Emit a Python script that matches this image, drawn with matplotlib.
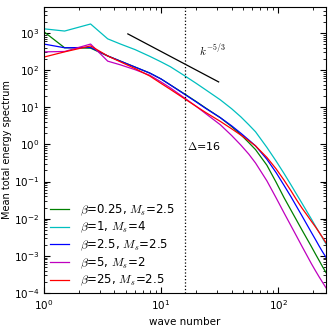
import matplotlib
matplotlib.use("Agg")
import matplotlib.pyplot as plt
import numpy as np

plt.rcParams['mathtext.fontset'] = 'cm'
plt.rcParams['font.family'] = ['DejaVu Sans']

k = [1, 1.5, 2.5, 3.5, 4.5, 6, 8, 10, 12, 16, 20, 24, 32, 40, 48, 56, 64, 80,
     96, 112, 128, 144, 160, 176, 192, 208, 224, 240, 256]

# log10 of mean total energy spectrum, one list per run
logE_b025 = [3.03, 2.60, 2.59, 2.38, 2.24, 2.08, 1.92, 1.76, 1.60, 1.35, 1.15, 0.98,
             0.72, 0.48, 0.26, 0.05, -0.14, -0.56, -1.02, -1.43, -1.76, -2.05, -2.31,
             -2.54, -2.75, -2.95, -3.13, -3.30, -3.45]
logE_b1 = [3.11, 3.05, 3.24, 2.84, 2.70, 2.55, 2.37, 2.22, 2.09, 1.84, 1.64, 1.47,
           1.20, 0.96, 0.74, 0.53, 0.34, -0.08, -0.45, -0.78, -1.08, -1.35, -1.59,
           -1.81, -2.01, -2.20, -2.37, -2.53, -2.68]
logE_b25 = [2.70, 2.60, 2.61, 2.38, 2.24, 2.08, 1.92, 1.76, 1.60, 1.34, 1.14, 0.97,
            0.72, 0.50, 0.30, 0.12, -0.04, -0.40, -0.76, -1.10, -1.40, -1.68, -1.93,
            -2.16, -2.37, -2.56, -2.74, -2.90, -3.04]
logE_b5 = [2.49, 2.50, 2.70, 2.24, 2.14, 2.01, 1.86, 1.68, 1.52, 1.24, 1.02, 0.83,
           0.53, 0.24, -0.02, -0.26, -0.50, -0.98, -1.44, -1.84, -2.18, -2.48, -2.75,
           -2.99, -3.21, -3.40, -3.57, -3.72, -3.86]
logE_b25b = [2.35, 2.49, 2.65, 2.38, 2.22, 2.04, 1.84, 1.64, 1.48, 1.22, 1.02, 0.86,
             0.62, 0.42, 0.25, 0.10, -0.04, -0.35, -0.66, -0.96, -1.24, -1.50, -1.72,
             -1.90, -2.07, -2.22, -2.37, -2.51, -2.65]

series = [
    (logE_b025, 'g', r'$\beta$=0.25, $M_s$=2.5'),
    (logE_b1, 'c', r'$\beta$=1, $M_s$=4'),
    (logE_b25, 'b', r'$\beta$=2.5, $M_s$=2.5'),
    (logE_b5, 'm', r'$\beta$=5, $M_s$=2'),
    (logE_b25b, 'r', r'$\beta$=25, $M_s$=2.5'),
]

# k^-5/3 reference line
k_ref = [5.2, 31]
E_ref = [940, 940 * (31 / 5.2) ** (-5 / 3)]

fig = plt.figure(figsize=(3.32, 3.30), dpi=100)
ax = fig.add_axes([0.1325, 0.112, 0.8495, 0.867])

for logE, c, lab in series:
    ax.plot(k, 10 ** np.array(logE), color=c, lw=0.9, label=lab)

ax.plot(k_ref, E_ref, color='k', lw=0.9)
ax.axvline(16, color='k', ls=':', lw=0.9)
ax.text(21, 250, r'$k^{-5/3}$', fontsize=8)
ax.text(16.8, 0.7, r'$\Delta$=16', fontsize=8)

ax.set_xscale('log')
ax.set_yscale('log')
ax.set_xlim(1, 256)
ax.set_ylim(1e-4, 5e3)
ax.set_xlabel('wave number', fontsize=7.5)
ax.set_ylabel('Mean total energy spectrum', fontsize=7, labelpad=1)
ax.tick_params(which='both', direction='in', top=True, right=True, labelsize=7.5)
ax.tick_params(which='major', length=4)
ax.tick_params(which='minor', length=2)

ax.legend(loc='lower left', frameon=False, fontsize=8.5, handlelength=1.6,
          handletextpad=0.9, labelspacing=0.2, borderaxespad=0.0,
          bbox_to_anchor=(0.005, 0.0))

fig.savefig('out.png', dpi=100)
